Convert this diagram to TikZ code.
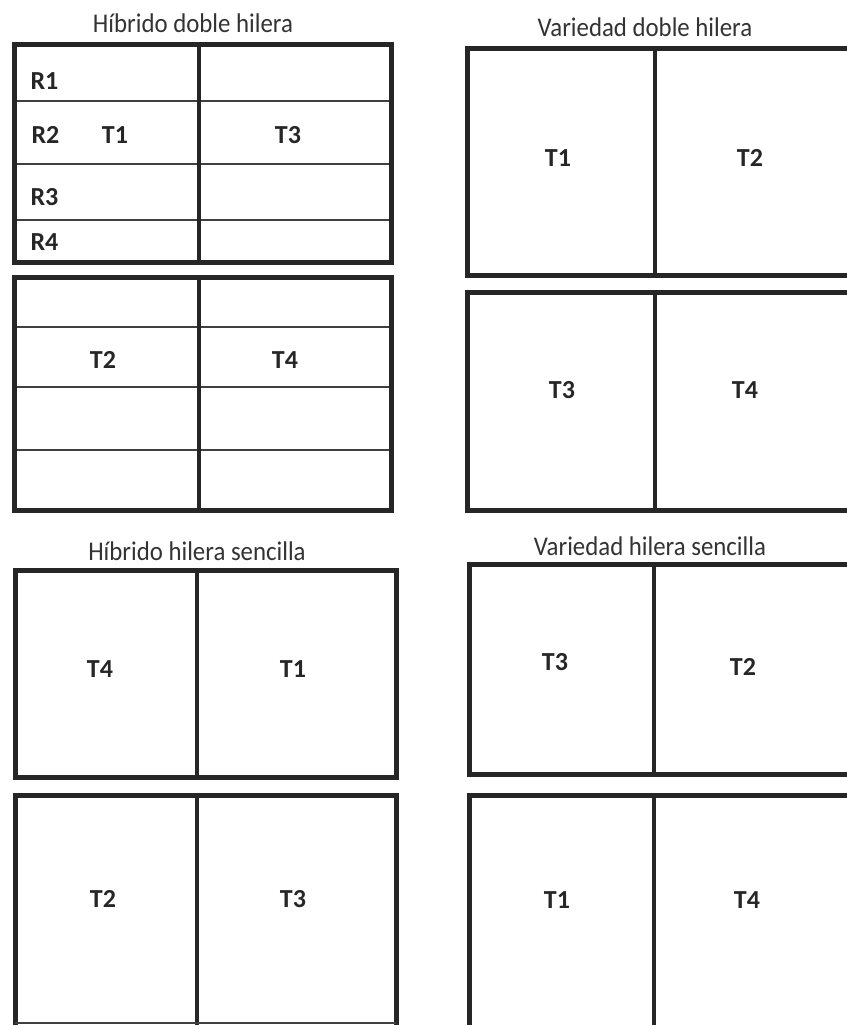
\documentclass[tikz,border=0pt]{standalone}
\usepackage{fontspec}
\setmainfont{Carlito}
\newcommand{\narrowtext}[1]{\scalebox{0.92}[1]{#1}}
\begin{document}
\begin{tikzpicture}[x=1pt, y=-1pt,
    plot/.style={line width=5pt, draw=black!85},
    divider/.style={line width=4pt, draw=black!85},
    row/.style={line width=1.6pt, draw=black!75},
    title/.style={anchor=base, font=\fontsize{27}{27}\selectfont, text=black!80},
    trt/.style={anchor=base, font=\bfseries\fontsize{26}{26}\selectfont, text=black!85},
    rep/.style={anchor=base west, font=\bfseries\fontsize{26}{26}\selectfont, text=black!85}]
    \useasboundingbox[fill=white] (0,0) rectangle (846,1025);

    % Titles
    \node[title] (tHD) at (193,33) {\narrowtext{Híbrido doble hilera}};
    \node[title] (tVD) at (645,37) {\narrowtext{Variedad doble hilera}};
    \node[title] (tHS) at (197,560) {\narrowtext{Híbrido hilera sencilla}};
    \node[title] (tVS) at (650,555) {\narrowtext{Variedad hilera sencilla}};

    % Hibrido doble hilera, upper plot
    \foreach \y in {101,164,220} \draw[row] (14,\y) -- (391,\y);
    \draw[divider] (199,45) -- (199,262);
    \draw[plot] (14,45) rectangle (391,262);
    \node[rep] (r1) at (27,89) {R1};
    \node[rep] (r2) at (28,143) {R2};
    \node[rep] (r3) at (27,205) {R3};
    \node[rep] (r4) at (27,250) {R4};
    \node[trt] (hdT1) at (115,143) {T1};
    \node[trt] (hdT3) at (288,143) {T3};

    % Hibrido doble hilera, lower plot
    \foreach \y in {327,387,450} \draw[row] (14,\y) -- (391,\y);
    \draw[divider] (199,277) -- (199,510);
    \draw[plot] (14,277) rectangle (391,510);
    \node[trt] (hdT2) at (103,368) {T2};
    \node[trt] (hdT4) at (285,368) {T4};

    % Variedad doble hilera
    \draw[divider] (655,49) -- (655,275);
    \draw[plot] (467,49) rectangle (880,275);
    \node[trt] (vdT1) at (558,166) {T1};
    \node[trt] (vdT2) at (750,166) {T2};
    \draw[divider] (655,292) -- (655,510);
    \draw[plot] (467,292) rectangle (880,510);
    \node[trt] (vdT3) at (562,398) {T3};
    \node[trt] (vdT4) at (745,398) {T4};

    % Hibrido hilera sencilla
    \draw[divider] (197,570) -- (197,777);
    \draw[plot] (15,570) rectangle (396,777);
    \node[trt] (hsT4) at (100,677) {T4};
    \node[trt] (hsT1) at (293,677) {T1};
    \draw[divider] (197,795) -- (197,1030);
    \draw[plot] (15,1040) |- (396,795) -- (396,1040);
    \draw[row] (15,1023) -- (396,1023);
    \node[trt] (hsT2) at (103,907) {T2};
    \node[trt] (hsT3) at (293,907) {T3};

    % Variedad hilera sencilla
    \draw[divider] (654,564) -- (654,774);
    \draw[plot] (469,564) rectangle (880,774);
    \node[trt] (vsT3) at (555,670) {T3};
    \node[trt] (vsT2) at (743,675) {T2};
    \draw[divider] (654,795) -- (654,1040);
    \draw[plot] (469,1040) |- (880,795);
    \node[trt] (vsT1) at (557,908) {T1};
    \node[trt] (vsT4) at (747,908) {T4};
\end{tikzpicture}
\end{document}
